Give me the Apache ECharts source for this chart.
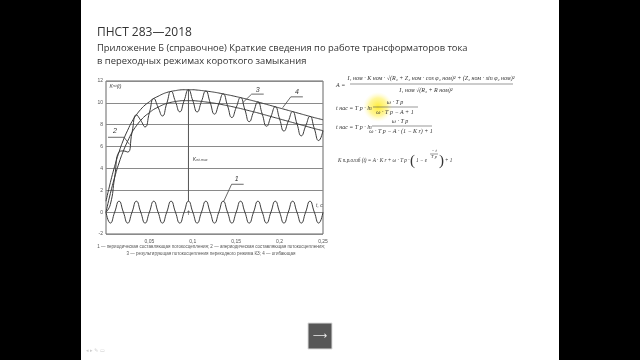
<!DOCTYPE html>
<html><head><meta charset="utf-8">
<script src="https://cdn.jsdelivr.net/npm/echarts@6/dist/echarts.min.js"></script>
<style>html,body{margin:0;padding:0;background:#000}#c{width:640px;height:360px}</style>
</head><body><div id="c"></div>
<script>
// ---- data ----
var times = [0,0.005,0.01,0.015,0.02,0.025,0.03,0.035,0.04,0.045,0.05,0.055,0.06,0.065,0.07,0.075,0.08,0.085,0.09,0.095,0.1,0.105,0.11,0.115,0.12,0.125,0.13,0.135,0.14,0.145,0.15,0.155,0.16,0.165,0.17,0.175,0.18,0.185,0.19,0.195,0.2,0.205,0.21,0.215,0.22,0.225,0.23,0.235,0.24,0.245,0.25];
// 1 - periodic component
var periodic = [0,-1,0,1,0,-1,0,1,0,-1,0,1,0,-1,0,1,0,-1,0,1,0,-1,0,1,0,-1,0,1,0,-1,0,1,0,-1,0,1,0,-1,0,1,0,-1,0,1,0,-1,0,1,0,-1,0];
// 2 - aperiodic component
var aperiodic = [0,1.7,3.2,4.5,5.6,6.5,7.3,7.9,8.4,8.8,9.1,9.4,9.6,9.8,9.95,10.05,10.12,10.18,10.2,10.2,10.2,10.17,10.13,10.08,10.03,9.97,9.9,9.82,9.74,9.66,9.57,9.48,9.38,9.28,9.18,9.08,8.97,8.86,8.75,8.64,8.53,8.42,8.31,8.2,8.09,7.98,7.87,7.76,7.65,7.55,7.45];
// 3 - resulting
var resulting = [0,0.7,3.2,5.5,5.6,5.5,7.3,8.9,8.4,7.8,9.1,10.4,9.6,8.8,9.95,11.05,10.12,9.18,10.2,11.2,10.2,9.17,10.13,11.08,10.03,8.97,9.9,10.82,9.74,8.66,9.57,10.48,9.38,8.28,9.18,10.08,8.97,7.86,8.75,9.64,8.53,7.42,8.31,9.2,8.09,6.98,7.87,8.76,7.65,6.55,7.45];
// 4 - envelope
var envelope = [1,2.7,4.2,5.5,6.6,7.5,8.3,8.9,9.4,9.8,10.1,10.4,10.6,10.8,10.95,11.05,11.12,11.18,11.2,11.2,11.2,11.17,11.13,11.08,11.03,10.97,10.9,10.82,10.74,10.66,10.57,10.48,10.38,10.28,10.18,10.08,9.97,9.86,9.75,9.64,9.53,9.42,9.31,9.2,9.09,8.98,8.87,8.76,8.65,8.55,8.45];
var kmaxTime = [0.095, 0.095];
var kmaxValues = [1, 11.2];
var yTicks = [-2,0,2,4,6,8,10,12];
var xTickLabels = ['', '0,05', '0,1', '0,15', '0,2', '0,25'];

function pairs(xs, ys){ return xs.map(function(x,i){return [x, ys[i]];}); }

var chart = echarts.init(document.getElementById('c'), null, {renderer:'canvas'});
var lineColor = '#3a3a3a';
function curve(name, vals, smooth){
  return {name:name, type:'line', data:pairs(times, vals), showSymbol:false, smooth:smooth,
    lineStyle:{color:lineColor, width:1}, animation:false, z:3};
}
var option = {
  backgroundColor:'#000',
  animation:false,
  grid:{left:106, right:317, top:81, bottom:126, show:true, backgroundColor:'#fff', borderColor:'#666', borderWidth:1},
  xAxis:{type:'value', min:0, max:0.25, interval:0.05,
    axisLine:{show:false}, axisTick:{show:false}, splitLine:{show:false},
    axisLabel:{fontSize:5, color:'#555', margin:5, fontFamily:'Liberation Sans',
      formatter:function(v){ var i=Math.round(v/0.05); return xTickLabels[i]||''; }}},
  yAxis:{type:'value', min:-2, max:12, interval:2,
    axisLine:{show:false}, axisTick:{show:false},
    splitLine:{show:true, lineStyle:{color:'#8a8a8a', width:1}},
    axisLabel:{fontSize:5, color:'#555', margin:3, fontFamily:'Liberation Sans',
      formatter:function(v){ return yTicks.indexOf(v)>=0 ? String(v) : ''; }}},
  series:[
    curve('1', periodic, 0.55),
    curve('2', aperiodic, true),
    curve('3', resulting, 0.55),
    curve('4', envelope, true),
    {type:'line', data:pairs(kmaxTime, kmaxValues), showSymbol:false, lineStyle:{color:'#555', width:1}, z:2}
  ]
};
chart.setOption(option);

function P(t, v){ return chart.convertToPixel({gridIndex:0}, [t, v]); }
var g = [];
// slide
g.push({type:'rect', shape:{x:81, y:0, width:478, height:360}, style:{fill:'#fff'}, z:-10, silent:true});
var slideFont = '"Open Sans","Noto Sans",sans-serif';
g.push({type:'text', x:97, y:27, style:{text:'ПНСТ 283—2018', font:'12px '+slideFont, fill:'#333'}});
g.push({type:'text', x:97, y:44, style:{text:'Приложение Б (справочное) Краткие сведения по работе трансформаторов тока', font:'9.4px '+slideFont, fill:'#333'}});
g.push({type:'text', x:97, y:57, style:{text:'в переходных режимах короткого замыкания', font:'9.4px '+slideFont, fill:'#333'}});
// caption
g.push({type:'text', x:211, y:244, style:{text:'1 — периодическая составляющая потокосцепления; 2 — апериодическая составляющая потокосцепления;', font:'4.5px "Liberation Sans"', fill:'#555', align:'center'}});
g.push({type:'text', x:211, y:251, style:{text:'3 — результирующая потокосцепления переходного режима КЗ; 4 — огибающая', font:'4.5px "Liberation Sans"', fill:'#555', align:'center'}});
// chart annotations (positioned in data space)
function lbl(t, v, txt, size){ var p=P(t,v); return {type:'text', x:p[0], y:p[1], style:{text:txt, font:'italic '+(size||7)+'px "Liberation Sans"', fill:'#333', align:'center', verticalAlign:'middle'}, z:10}; }
function poly(pts){ return {type:'polyline', shape:{points:pts.map(function(q){return P(q[0],q[1]);})}, style:{stroke:'#444', lineWidth:0.8, fill:null}, z:10}; }
g.push(lbl(0.1505, 3.0, '1'));
g.push(poly([[0.1586,2.55],[0.1447,2.55],[0.1354,0.95]]));
g.push(lbl(0.0104, 7.4, '2'));
g.push(poly([[0.0023,6.85],[0.0208,6.85],[0.027,6.2]]));
g.push(lbl(0.1748, 11.2, '3'));
g.push(poly([[0.1817,10.8],[0.1678,10.8],[0.1574,10.0]]));
g.push(lbl(0.2199, 10.95, '4'));
g.push(poly([[0.2268,10.55],[0.2129,10.55],[0.2035,9.55]]));
var pk = P(0.1, 5.0);
g.push({type:'text', x:pk[0], y:pk[1], style:{text:'{k|K}{s|пд.max}', rich:{k:{font:'italic 5px "Liberation Sans"', fill:'#444'}, s:{font:'italic 3.5px "Liberation Sans"', fill:'#444', verticalAlign:'bottom'}}}, z:10});
var yn = P(0.004, 11.5);
g.push({type:'text', x:yn[0], y:yn[1], style:{text:'{k|K}{s|пд}{k|(t)}', rich:{k:{font:'italic 5px "Liberation Sans"', fill:'#444'}, s:{font:'italic 3.5px "Liberation Sans"', fill:'#444'}}, verticalAlign:'middle'}, z:10});
var tc = P(0.242, 0.35);
g.push({type:'text', x:tc[0], y:tc[1], style:{text:'t, c', font:'italic 5px "Liberation Sans"', fill:'#444', verticalAlign:'bottom'}, z:10});
var ar = P(0.095, 0.2);
g.push({type:'text', x:ar[0], y:ar[1], style:{text:'↑', font:'6px "DejaVu Sans"', fill:'#444', align:'center', verticalAlign:'top'}, z:10});

// formulas
var ff = 'italic 6px "Liberation Serif"';
var fc = '#333';
function ft(x,y,t,a,f){ return {type:'text', x:x, y:y, style:{text:t, font:f||ff, fill:fc, align:a||'left', verticalAlign:'middle'}, z:10}; }
function fl(x1,y,x2){ return {type:'line', shape:{x1:x1,y1:y,x2:x2,y2:y}, style:{stroke:'#555', lineWidth:0.6}, z:10}; }
// highlight
g.push({type:'circle', shape:{cx:378, cy:107, r:15}, style:{fill:new echarts.graphic.RadialGradient(0.5,0.5,0.5,[{offset:0,color:'rgba(255,235,40,0.95)'},{offset:0.6,color:'rgba(255,240,90,0.6)'},{offset:1,color:'rgba(255,250,180,0)'}])}, z:5});
g.push(ft(336, 85, 'A ='));
g.push(ft(431, 78, 'I₁ ном · K ном · √(R₂ + Z₂ ном · cos φ₂ ном)² + (Z₂ ном · sin φ₂ ном)²', 'center'));
g.push(fl(350, 84, 513));
g.push(ft(426, 90, 'I₁ ном √(R₂ + R ном)²', 'center'));
g.push(ft(336, 108, 't нас = T p · ln'));
g.push(ft(395, 102, 'ω · T p', 'center'));
g.push(fl(373, 107, 418));
g.push(ft(395, 112, 'ω · T p − A + 1', 'center'));
g.push(ft(336, 127, 't нас = T p · ln'));
g.push(ft(400, 121, 'ω · T p', 'center'));
g.push(fl(372, 126, 432));
g.push(ft(401, 131, 'ω · T p − A · (1 − K r) + 1', 'center'));
var f4 = 'italic 5.2px "Liberation Serif"';
g.push(ft(338, 161, 'K п.р.огиб (t) = A · K r + ω · T p ·', 'left', f4));
g.push(ft(410, 161, '(', 'left', '15px "Liberation Serif"'));
g.push(ft(416, 161, '1 − e', 'left', f4));
g.push(ft(434, 151, '− t', 'center', 'italic 4.5px "Liberation Serif"'));
g.push(fl(430, 154, 438));
g.push(ft(434, 157, 'T p', 'center', 'italic 4.5px "Liberation Serif"'));
g.push(ft(439, 161, ')', 'left', '15px "Liberation Serif"'));
g.push(ft(445, 161, '+ 1', 'left', f4));
// next button
g.push({type:'rect', shape:{x:308, y:323, width:24, height:26}, style:{fill:'#575757', stroke:'#ddd', lineWidth:1}, z:10});
g.push({type:'text', x:320, y:336, style:{text:'⟶', font:'10px "DejaVu Sans"', fill:'#eee', align:'center', verticalAlign:'middle'}, z:11});
g.push({type:'text', x:86, y:351, style:{text:'◂ ▸ ✎ ▭', font:'5px "DejaVu Sans"', fill:'#ccc', verticalAlign:'middle'}, z:11});
chart.setOption({graphic:g});
</script></body></html>
